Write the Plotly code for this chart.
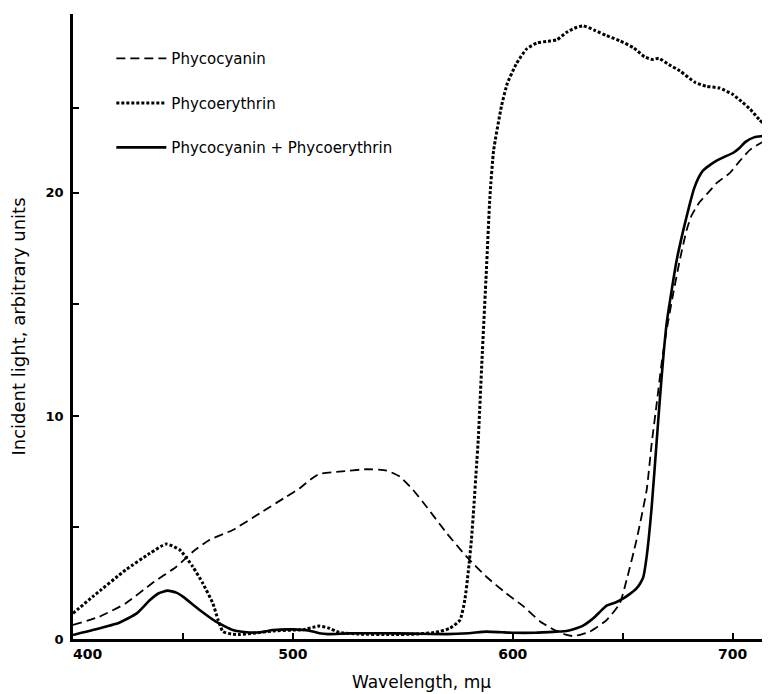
import plotly.graph_objects as go

# ---- data ----
pc_wl = [400, 412, 424, 436, 447, 454.5, 462, 472.7, 485, 497, 503, 508, 512, 521, 533.5,
         542.6, 548.6, 554.7, 560.8, 570, 579, 588, 597, 605, 612.3, 619, 624, 627.5, 631,
         635, 642.7, 648.7, 651.8, 656.3, 660.9, 663.2, 665.5, 667.7, 670, 673, 676, 679.1,
         681.4, 685.1, 689.7, 692.8, 698.8, 703, 707.9, 713, 717]
pc_val = [0.63, 1.0, 1.6, 2.5, 3.24, 3.91, 4.44, 4.89, 5.64, 6.38, 6.75, 7.15, 7.4, 7.5, 7.61,
          7.55, 7.28, 6.68, 5.93, 4.74, 3.69, 2.79, 2.05, 1.45, 0.8, 0.4, 0.2, 0.13, 0.2,
          0.33, 0.85, 1.6, 2.65, 4.44, 6.68, 8.78, 10.57, 12.36, 13.86, 15.5, 17.0, 18.34,
          19.0, 19.6, 20.1, 20.45, 20.9, 21.4, 21.93, 22.25, 22.45]

pe_wl = [400, 409, 424, 435, 442.4, 448.5, 454.5, 459, 463.6, 466, 468.2, 472, 476, 482, 491,
         500, 505, 509, 512, 516, 521, 530, 545, 556, 565, 571.4, 576, 578.2, 579.7, 581.2,
         582.3, 583.5, 584.3, 586, 588, 589.6, 591.3, 594.9, 597.5, 601.7, 606.3, 611, 616,
         620, 624.5, 628, 632, 637, 642.7, 648.7, 655, 660, 663.5, 666.5, 671, 676, 683,
         688, 694, 700, 704, 708, 712, 717]
pe_val = [1.15, 1.9, 3.1, 3.84, 4.26, 4.0, 3.24, 2.5, 1.6, 0.85, 0.33, 0.22, 0.2, 0.26, 0.36,
          0.4, 0.42, 0.52, 0.58, 0.5, 0.3, 0.22, 0.2, 0.22, 0.3, 0.48, 0.85, 1.75, 2.95, 4.44,
          5.93, 7.73, 8.92, 12.5, 16.5, 19.8, 21.9, 23.9, 24.9, 25.8, 26.45, 26.72, 26.8,
          26.86, 27.2, 27.38, 27.49, 27.3, 27.05, 26.82, 26.5, 26.1, 25.98, 26.03, 25.75,
          25.47, 24.95, 24.78, 24.7, 24.42, 24.1, 23.75, 23.3, 22.8]

mix_wl = [400, 409, 421, 429, 435, 439, 443, 447, 450, 457.6, 465, 472.7, 478.8, 485, 491,
          500, 507.6, 512, 516, 525, 540, 555, 570, 580, 588, 595, 600, 610, 620, 624.5, 628,
          632, 635, 637.4, 640, 642.7, 647, 650.3, 653, 656.3, 658, 659.4, 660.9, 663.2,
          665.5, 667, 668.5, 670, 672.3, 674.6, 677.6, 680.6, 682.5, 684.4, 686.5, 689, 692,
          696, 700.3, 703, 706, 710, 714, 717]
mix_val = [0.18, 0.4, 0.73, 1.15, 1.75, 2.05, 2.17, 2.08, 1.9, 1.3, 0.78, 0.4, 0.3, 0.3, 0.4,
           0.43, 0.37, 0.26, 0.22, 0.25, 0.26, 0.24, 0.22, 0.26, 0.33, 0.3, 0.28, 0.28, 0.33,
           0.36, 0.45, 0.6, 0.8, 1.0, 1.25, 1.5, 1.65, 1.82, 2.0, 2.27, 2.5, 2.79, 3.69, 5.93,
           8.92, 10.87, 12.66, 14.16, 15.65, 17.0, 18.34, 19.54, 20.2, 20.66, 21.0, 21.2,
           21.4, 21.6, 21.8, 22.0, 22.3, 22.5, 22.55, 22.6]

x_tickvals = [400, 450, 500, 600, 650, 700]
x_ticktext = ["\u00a0" * 6 + "400", "", "500", "600", "", "700"]
y_tickvals = [0, 5, 10, 15, 20, 23.8]
y_ticktext = ["0", "", "10", "", "20", ""]

series_names = ["Phycocyanin", "Phycoerythrin", "Phycocyanin + Phycoerythrin"]

fig = go.Figure()
fig.add_trace(go.Scatter(x=pc_wl, y=pc_val, mode="lines", name=series_names[0],
                         legendgroup="a",
                         line=dict(color="black", width=1.8, dash="9px,5px",
                                   shape="spline", smoothing=0.5)))
fig.add_trace(go.Scatter(x=pe_wl, y=pe_val, mode="lines", name=series_names[1],
                         legendgroup="b",
                         line=dict(color="black", width=3, dash="3px,2px",
                                   shape="spline", smoothing=0.5)))
fig.add_trace(go.Scatter(x=mix_wl, y=mix_val, mode="lines", name=series_names[2],
                         legendgroup="c",
                         line=dict(color="black", width=2.6,
                                   shape="spline", smoothing=0.5)))

fig.update_layout(
    width=762, height=686,
    margin=dict(l=65, r=0, t=6, b=55),
    plot_bgcolor="white", paper_bgcolor="white",
    showlegend=True,
    legend=dict(x=0.055, y=0.955, xanchor="left", yanchor="top",
                bgcolor="rgba(0,0,0,0)", tracegroupgap=22, itemwidth=50,
                font=dict(family="DejaVu Sans", size=15, color="black")),
    xaxis=dict(range=[400, 717], showgrid=False, zeroline=False,
               showline=True, linecolor="black", linewidth=2.5,
               ticks="inside", ticklen=6, tickwidth=2, tickcolor="black",
               tickvals=x_tickvals, ticktext=x_ticktext,
               tickfont=dict(family="DejaVu Sans", size=14, color="black", weight="bold"),
               title=dict(text="Wavelength, m\u03bc", standoff=16,
                          font=dict(family="DejaVu Sans", size=17, color="black"))),
    yaxis=dict(range=[0, 28.02], showgrid=False, zeroline=False,
               showline=True, linecolor="black", linewidth=2.5,
               ticks="inside", ticklen=6, tickwidth=2, tickcolor="black",
               tickvals=y_tickvals, ticktext=y_ticktext, ticklabelstandoff=4,
               tickfont=dict(family="DejaVu Sans", size=13, color="black", weight="bold"),
               title=dict(text="Incident light, arbitrary units", standoff=18,
                          font=dict(family="DejaVu Sans", size=18, color="black"))),
)

fig.write_html("out.html")
